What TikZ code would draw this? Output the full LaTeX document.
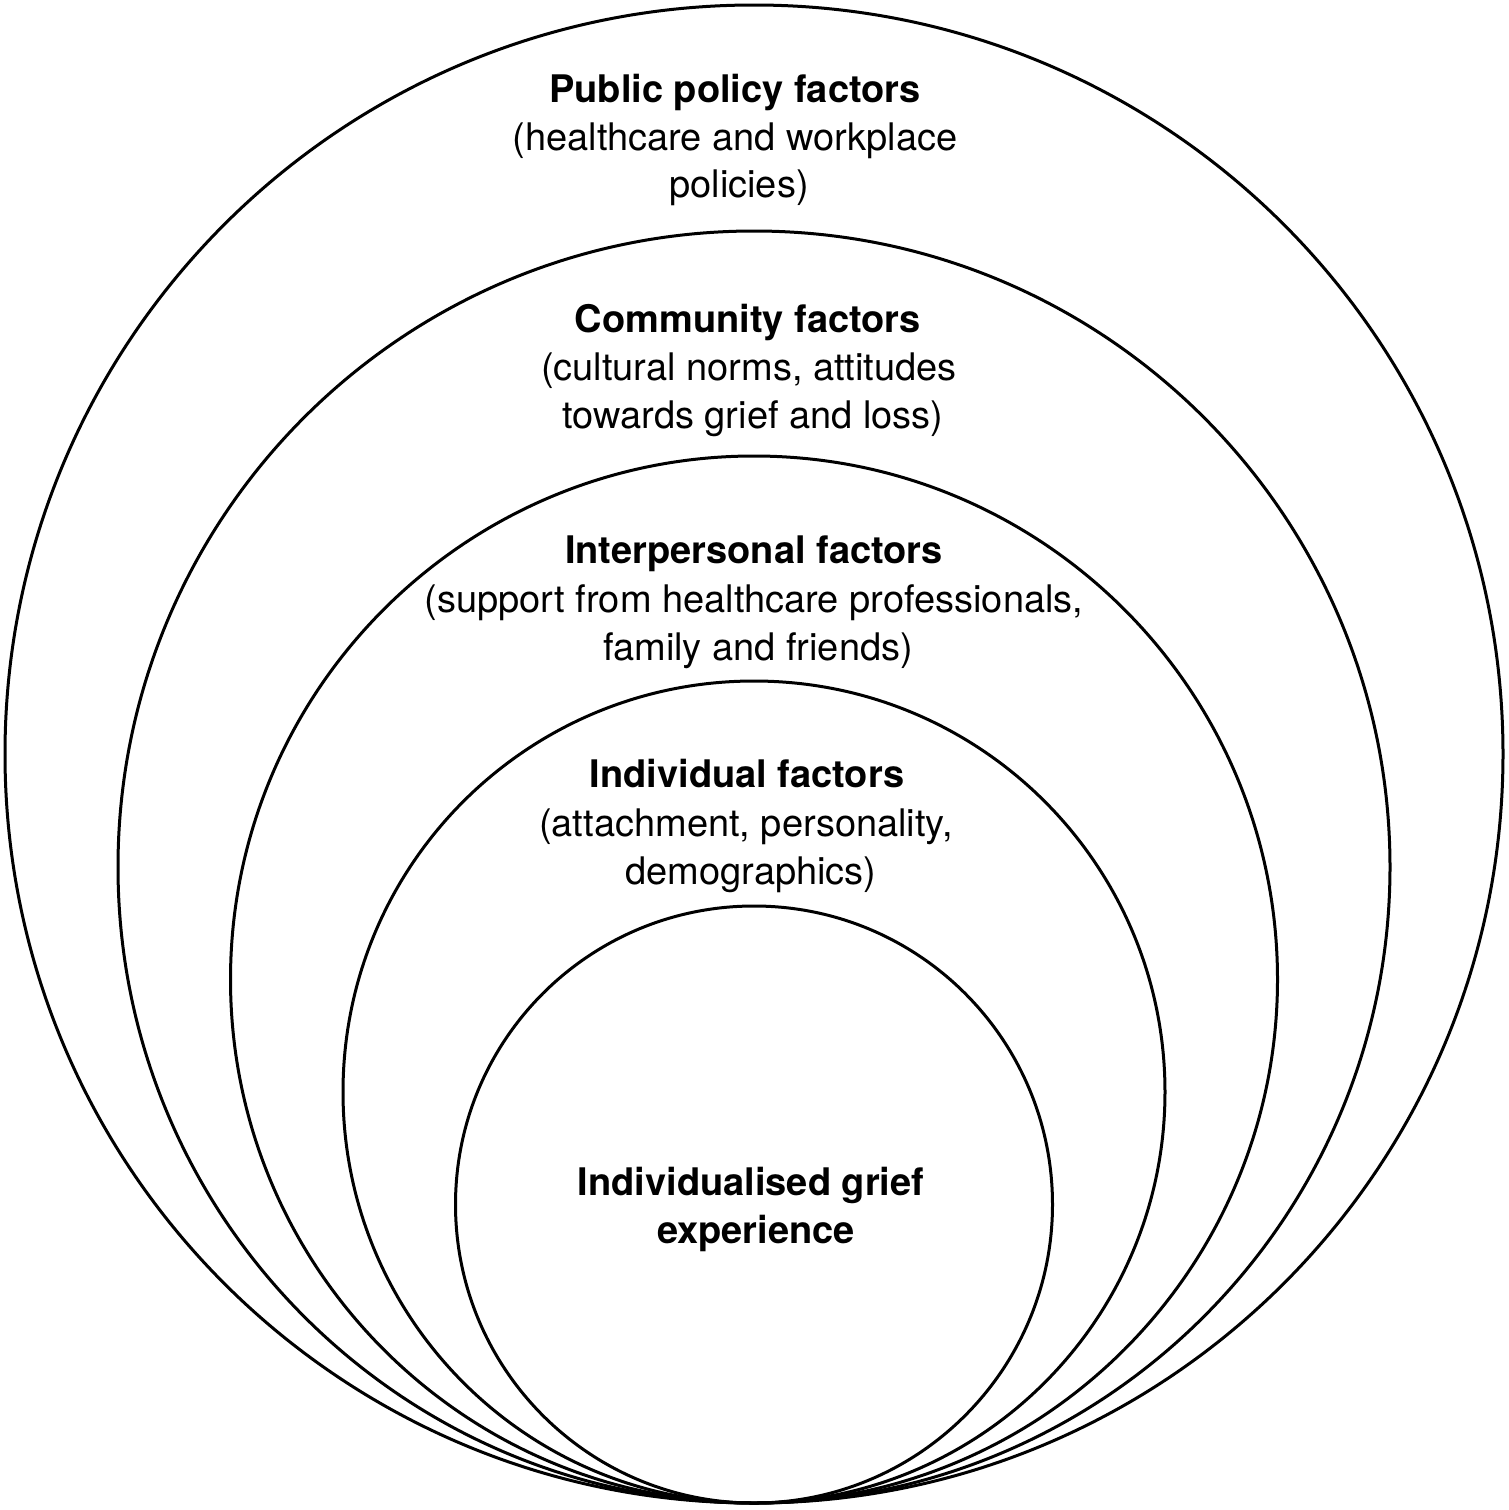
\documentclass[tikz,border=0pt]{standalone}
\usepackage{fontspec}
\setmainfont{TeX Gyre Heros}
\begin{document}
\begin{tikzpicture}[x=1pt,y=-1pt,
  ring/.style={draw=black, line width=3pt, circle, inner sep=0pt, fill=none},
  head/.style={anchor=base, inner sep=0pt, font=\fontsize{38}{48}\selectfont\bfseries},
  sub/.style={anchor=base, inner sep=0pt, font=\fontsize{38}{48}\selectfont}]
\useasboundingbox (0,0) rectangle (1508,1510);
% nested circles, all tangent at the bottom (y = 1503)
\node[ring, minimum size=1498pt] (c1) at (754,754) {};
\node[ring, minimum size=1272pt] (c2) at (754,867) {};
\node[ring, minimum size=1047pt] (c3) at (754,979.5) {};
\node[ring, minimum size=822pt]  (c4) at (754,1092) {};
\node[ring, minimum size=597pt]  (c5) at (754,1204.5) {};
% labels
\node[head] (pp1) at (735,102) {Public policy factors};
\node[sub]  (pp2) at (735,150) {(healthcare and workplace};
\node[sub]  (pp3) at (739,197) {policies)};
\node[head] (cf1) at (748,332) {Community factors};
\node[sub]  (cf2) at (749,380) {(cultural norms, attitudes};
\node[sub]  (cf3) at (753,428) {towards grief and loss)};
\node[head] (ip1) at (754,563) {Interpersonal factors};
\node[sub]  (ip2) at (754,612) {(support from healthcare professionals,};
\node[sub]  (ip3) at (758,660) {family and friends)};
\node[head] (id1) at (747,787) {Individual factors};
\node[sub]  (id2) at (746,836) {(attachment, personality,};
\node[sub]  (id3) at (751,884) {demographics)};
\node[head] (ig1) at (751,1195) {Individualised grief};
\node[head] (ig2) at (756,1243) {experience};
\end{tikzpicture}
\end{document}
